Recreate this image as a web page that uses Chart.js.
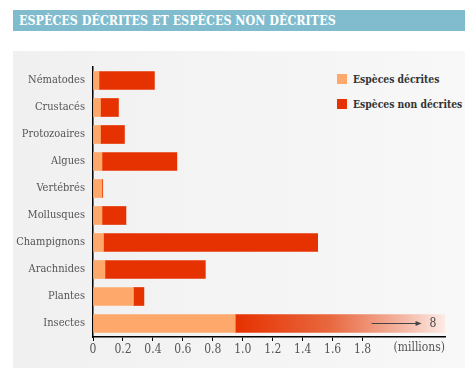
<!DOCTYPE html>
<html><head><meta charset="utf-8">
<script src="https://cdn.jsdelivr.net/npm/chart.js@4.4.1/dist/chart.umd.min.js"></script>
<style>
html,body{margin:0;padding:0;background:#fff;width:465px;height:391px;overflow:hidden;}
#title{position:absolute;left:13px;top:10px;width:452px;height:21px;background:#80bccd;color:#fff;
 font-family:"DejaVu Serif Condensed","DejaVu Serif";font-stretch:condensed;font-weight:bold;font-size:12.4px;line-height:22px;padding-left:6px;box-sizing:border-box;white-space:nowrap;}
#panel{position:absolute;left:13px;top:51px;width:452px;height:317px;background:linear-gradient(90deg,#f0f0f0,#f8f8f8);}
canvas{position:absolute;left:0;top:0;}
#legend{position:absolute;left:337px;top:74px;font-family:"DejaVu Serif Condensed","DejaVu Serif";font-stretch:condensed;font-weight:bold;font-size:10.3px;color:#333;}
#legend div{height:24.5px;line-height:11px;white-space:nowrap;}
#legend span{display:inline-block;width:10px;height:10px;margin-right:6px;vertical-align:-1px;}
</style></head>
<body>
<div id="title">ESPÈCES DÉCRITES ET ESPÈCES NON DÉCRITES</div>
<div id="panel"></div>
<div id="legend"></div>
<canvas id="c" width="465" height="391"></canvas>
<script>
const categories = ["Nématodes","Crustacés","Protozoaires","Algues","Vertébrés","Mollusques","Champignons","Arachnides","Plantes","Insectes"];
const decrites    = [0.04, 0.05, 0.05, 0.06, 0.06, 0.06, 0.07, 0.08, 0.27, 0.95];
const nonDecrites = [0.37, 0.12, 0.16, 0.50, 0.005, 0.16, 1.43, 0.67, 0.07, 7.05];
const tickValues  = [0, 0.2, 0.4, 0.6, 0.8, 1.0, 1.2, 1.4, 1.6, 1.8];
const seriesNames = ["Espèces décrites", "Espèces non décrites"];
const colors = ["#fea86b", "#e63100"];
const insecteTotalLabel = "8";
const unitLabel = "(millions)";

const FONT = '"DejaVu Serif Condensed", "DejaVu Serif", serif';

document.getElementById('legend').innerHTML = seriesNames.map((n,i)=>
  `<div><span style="background:${colors[i]}"></span>${n}</div>`).join('');

const extras = {
  id: 'extras',
  afterDatasetsDraw(chart) {
    const {ctx, scales:{x, y}, chartArea} = chart;
    const yi = y.getPixelForValue(categories.length - 1);
    ctx.save();
    ctx.strokeStyle = '#444'; ctx.fillStyle = '#444'; ctx.lineWidth = 1;
    const x1 = x.getPixelForValue(1.86), x2 = x.getPixelForValue(2.18);
    ctx.beginPath(); ctx.moveTo(x1, yi); ctx.lineTo(x2, yi); ctx.stroke();
    ctx.beginPath(); ctx.moveTo(x2+2, yi); ctx.lineTo(x2-4, yi-2.5); ctx.lineTo(x2-4, yi+2.5); ctx.closePath(); ctx.fill();
    ctx.font = `condensed 12px ${FONT}`; ctx.textAlign = 'center'; ctx.textBaseline = 'middle';
    ctx.fillText(insecteTotalLabel, x.getPixelForValue(2.27), yi);
    ctx.fillStyle = '#555'; ctx.textAlign = 'right'; ctx.textBaseline = 'top';
    ctx.fillText(unitLabel, chartArea.right, chartArea.bottom + 5);
    ctx.restore();
  }
};

new Chart(document.getElementById('c'), {
  type: 'bar',
  data: {
    labels: categories,
    datasets: [
      {label: seriesNames[0], data: decrites, backgroundColor: colors[0], barThickness: 18, borderWidth: 0},
      {label: seriesNames[1], data: nonDecrites, barThickness: 18, borderWidth: 0,
       backgroundColor(ctx) {
         const chart = ctx.chart;
         if (!chart.chartArea) return colors[1];
         if (ctx.dataIndex === categories.length - 1) {
           const x0 = chart.scales.x.getPixelForValue(decrites[ctx.dataIndex]);
           const g = chart.ctx.createLinearGradient(x0, 0, chart.chartArea.right, 0);
           g.addColorStop(0, colors[1]);
           g.addColorStop(0.45, '#e8683f');
           g.addColorStop(0.8, '#f4b7a4');
           g.addColorStop(1, '#fdebe6');
           return g;
         }
         return colors[1];
       }}
    ]
  },
  options: {
    indexAxis: 'y',
    responsive: false,
    animation: false,
    layout: {padding: {top: 67, right: 20, bottom: 0, left: 0}},
    plugins: {legend: {display: false}, tooltip: {enabled: false}},
    scales: {
      x: {
        stacked: true, min: 0, max: 2.35,
        afterBuildTicks(s) { s.ticks = tickValues.map(v => ({value: v})); },
        afterFit(s) { s.height = 54; },
        grid: {drawOnChartArea: false, drawTicks: true, tickLength: 4, color: '#000'},
        border: {color: '#000', width: 1.5},
        ticks: {font: {family: FONT, style: 'condensed', size: 12}, color: '#555', padding: 2, maxRotation: 0,
                callback: v => v === 0 ? '0' : Number(v).toFixed(1)}
      },
      y: {
        stacked: true,
        afterFit(s) { s.width = 93; },
        grid: {display: false},
        border: {color: '#000', width: 1.5},
        ticks: {font: {family: FONT, style: 'condensed', size: 11}, color: '#555', padding: 0}
      }
    }
  },
  plugins: [extras]
});
</script>
</body></html>
